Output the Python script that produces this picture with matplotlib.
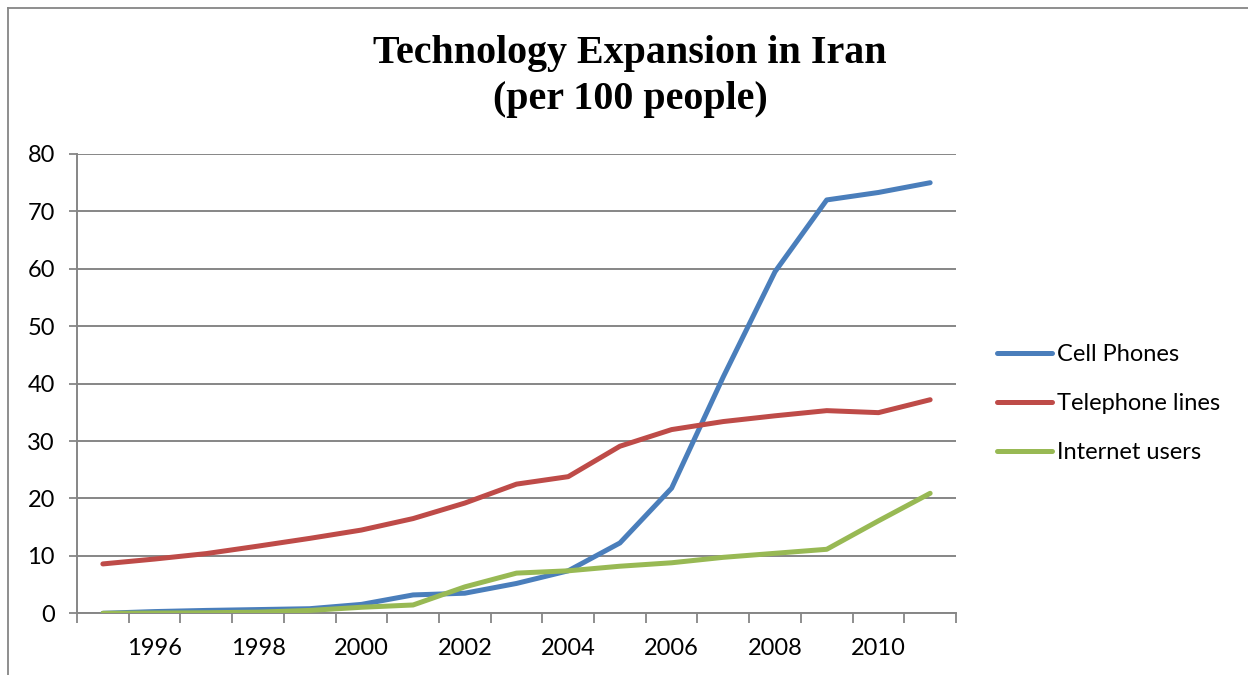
import matplotlib
matplotlib.use("Agg")
import matplotlib.pyplot as plt
from matplotlib.lines import Line2D

years = list(range(1995, 2012))
cell_phones = [0.0, 0.3, 0.5, 0.65, 0.8, 1.55, 3.2, 3.5, 5.2, 7.4, 12.25, 21.8, 41.2, 59.5, 72.0, 73.3, 75.0]
telephone_lines = [8.6, 9.45, 10.4, 11.7, 13.05, 14.5, 16.5, 19.2, 22.5, 23.8, 29.1, 32.0, 33.4, 34.4, 35.3, 34.95, 37.2]
internet_users = [0.0, 0.05, 0.1, 0.2, 0.5, 1.05, 1.45, 4.6, 7.0, 7.4, 8.2, 8.8, 9.75, 10.45, 11.15, 16.1, 20.9]
series_names = ["Cell Phones", "Telephone lines", "Internet users"]
series_colors = ["#4A7EBB", "#BE4B48", "#98B954"]
y_ticks = [0, 10, 20, 30, 40, 50, 60, 70, 80]
x_label_years = [1996, 1998, 2000, 2002, 2004, 2006, 2008, 2010]

W, H = 1248, 675
fig = plt.figure(figsize=(W / 100, H / 100), dpi=100)
ax = fig.add_axes([77 / W, 1 - 613.3 / H, (956 - 77) / W, (613.3 - 154) / H])

font = "Lato"
gray = "#868686"
fs = 17

for vals, name, col in zip([cell_phones, telephone_lines, internet_users], series_names, series_colors):
    ax.plot(years, vals, color=col, lw=3.6, label=name, solid_capstyle="round", solid_joinstyle="round", zorder=3)

ax.set_xlim(years[0] - 0.5, years[-1] + 0.5)
ax.set_ylim(0, 80)
ax.set_yticks(y_ticks)
ax.set_yticklabels([str(v) for v in y_ticks], fontfamily=font, fontsize=fs)
ax.yaxis.grid(True, color=gray, lw=1.4, zorder=0)
ax.set_axisbelow(True)

# category boundaries as major ticks, labels as minor
ax.set_xticks([y - 0.5 for y in years] + [years[-1] + 0.5])
ax.set_xticklabels([])
ax.set_xticks(x_label_years, minor=True)
ax.set_xticklabels([str(y) for y in x_label_years], minor=True, fontfamily=font, fontsize=fs)
ax.tick_params(axis="x", which="major", length=7, width=1.3, color=gray, direction="out")
ax.tick_params(axis="x", which="minor", length=0, pad=18)
ax.tick_params(axis="y", which="major", length=6, width=1.3, color=gray, direction="out", pad=10)

for s in ["top", "right"]:
    ax.spines[s].set_visible(False)
for s in ["left", "bottom"]:
    ax.spines[s].set_color(gray)
    ax.spines[s].set_linewidth(1.4)

fig.text(630 / W, 1 - 53 / H, "Technology Expansion in Iran", ha="center", va="center",
         fontfamily="Liberation Serif", fontweight="bold", fontsize=28.8)
fig.text(630 / W, 1 - 100 / H, "(per 100 people)", ha="center", va="center",
         fontfamily="Liberation Serif", fontweight="bold", fontsize=28.8)

leg = fig.legend(loc="upper left", bbox_to_anchor=(976 / W, 1 - 323 / H), frameon=False,
                 prop={"family": font, "size": fs}, handlelength=2.3, handletextpad=0.22,
                 labelspacing=1.18)

# outer chart border
fig.add_artist(Line2D([8 / W, 1.0], [1 - 8 / H, 1 - 8 / H], color=gray, lw=1.3, transform=fig.transFigure))
fig.add_artist(Line2D([8 / W, 8 / W], [0, 1 - 8 / H], color=gray, lw=1.3, transform=fig.transFigure))

fig.savefig("out.png", dpi=100)
